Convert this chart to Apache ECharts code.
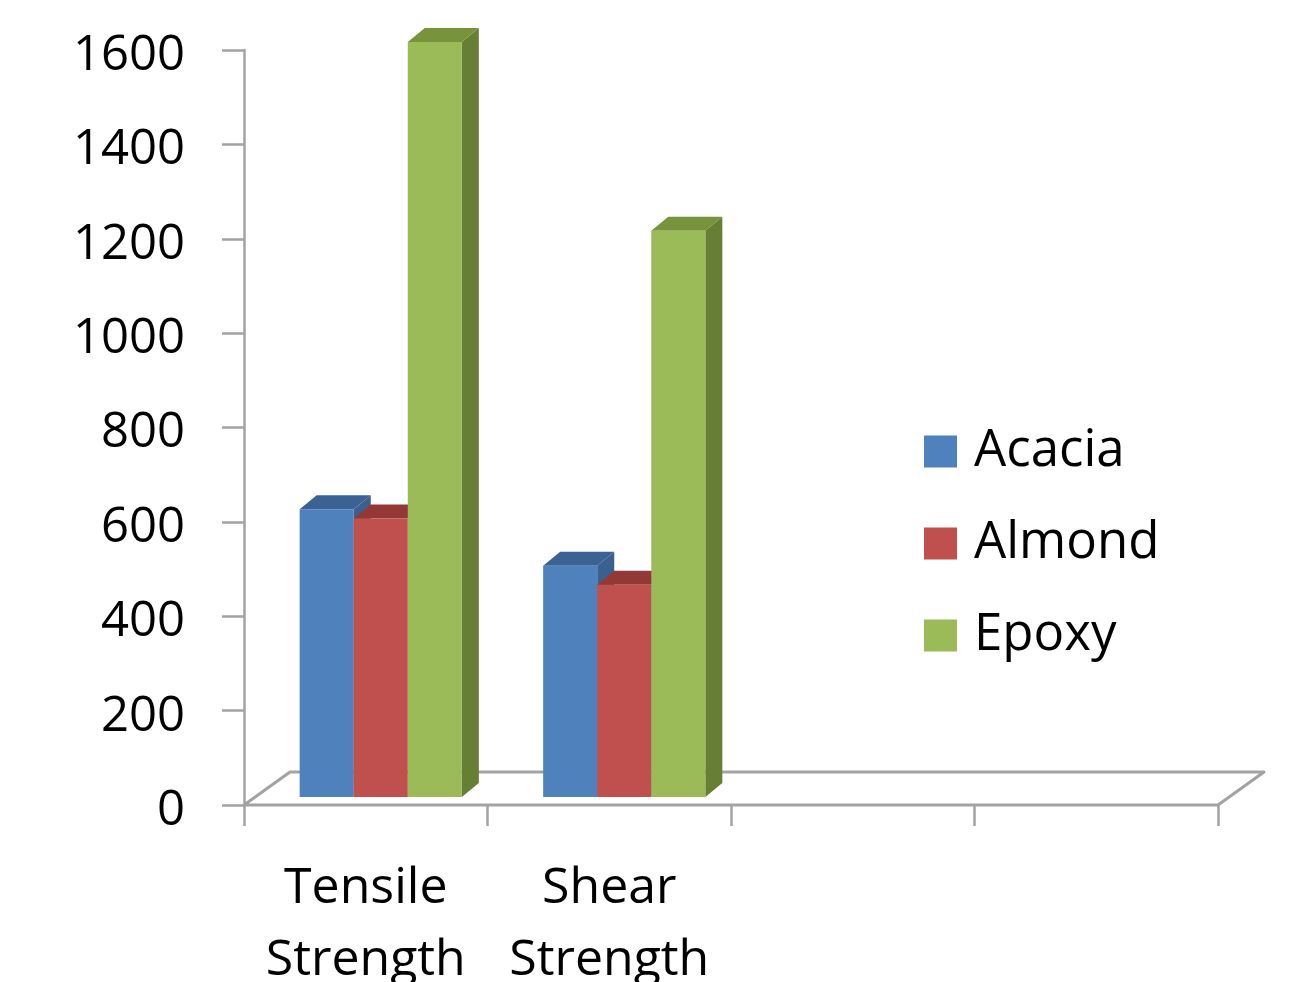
<!DOCTYPE html>
<html>
<head>
<meta charset="utf-8">
<title>Strength comparison</title>
<script src="https://cdn.jsdelivr.net/npm/echarts@6/dist/echarts.min.js"></script>
<style>
  html, body { margin: 0; padding: 0; background: #ffffff; overflow: hidden; }
  #chart { width: 1308px; height: 982px; }
</style>
</head>
<body>
<div id="chart"></div>
<script>
// Categories along the floor (the last two slots are empty)
const categories = ['Tensile\nStrength', 'Shear\nStrength', '', ''];
// Series values
const acacia = [610, 490];
const almond = [590, 450];
const epoxy = [1600, 1200];
const seriesNames = ['Acacia', 'Almond', 'Epoxy'];
// Value axis range
const yMin = 0;
const yMax = 1600;
const yStep = 200;

// Face colours: front, top, side
const palette = [
  { front: '#4f81bd', top: '#3a6394', side: '#3a6090' },
  { front: '#c0504d', top: '#943835', side: '#8f3a37' },
  { front: '#9bbb59', top: '#77933c', side: '#667f34' }
];

const FONT = '"Open Sans", "Liberation Sans", sans-serif';
const AXIS_GREY = '#a3a3a3';

// oblique projection offsets
const PLANE_DX = 15, PLANE_DY = -8;   // bars sit slightly behind the front edge
const DEPTH_DX = 17, DEPTH_DY = -14;  // thickness of each column
const FLOOR_DX = 46, FLOOR_DY = -33;  // depth of the floor
const BAR_RATIO = 0.222;               // column width as a share of the category band

function makeBarRenderer(slot) {
  return function (params, api) {
    const cat = api.value(0);
    const val = api.value(1);
    const base = api.coord([cat, 0]);
    const top = api.coord([cat, val]);
    const band = api.size([1, 0])[0];
    const w = band * BAR_RATIO;
    const xl = base[0] - (w * 3) / 2 + slot * w + PLANE_DX;
    const by = base[1] + PLANE_DY;
    const ty = top[1] + PLANE_DY;
    const c = palette[slot];
    return {
      type: 'group',
      children: [
        {
          type: 'polygon',
          shape: { points: [[xl + w, ty], [xl + w + DEPTH_DX, ty + DEPTH_DY], [xl + w + DEPTH_DX, by + DEPTH_DY], [xl + w, by]] },
          style: { fill: c.side }
        },
        {
          type: 'polygon',
          shape: { points: [[xl, ty], [xl + w, ty], [xl + w + DEPTH_DX, ty + DEPTH_DY], [xl + DEPTH_DX, ty + DEPTH_DY]] },
          style: { fill: c.top }
        },
        {
          type: 'rect',
          shape: { x: xl, y: ty, width: w, height: by - ty },
          style: { fill: c.front }
        }
      ]
    };
  };
}

// outline of the floor: front edge, right side, back edge, left side
function renderFloor(params, api) {
  const cs = params.coordSys;
  const x0 = cs.x, x1 = cs.x + cs.width, y0 = cs.y + cs.height;
  return {
    type: 'polygon',
    shape: { points: [[x0, y0], [x0 + FLOOR_DX, y0 + FLOOR_DY], [x1 + FLOOR_DX, y0 + FLOOR_DY], [x1, y0]] },
    style: { stroke: AXIS_GREY, lineWidth: 3, fill: null, lineJoin: 'round' }
  };
}

const valueSets = [acacia, almond, epoxy];

const chart = echarts.init(document.getElementById('chart'), null, { renderer: 'canvas' });

const series = [
  {
    type: 'custom',
    name: 'floor',
    renderItem: renderFloor,
    data: [[0, 0]],
    silent: true,
    z: 1
  }
].concat(seriesNames.map((name, i) => ({
  type: 'custom',
  name: name,
  renderItem: makeBarRenderer(i),
  itemStyle: { color: palette[i].front },
  encode: { x: 0, y: 1 },
  data: valueSets[i].map((v, k) => [k, v]),
  z: 2 + i
})));

chart.setOption({
  animation: false,
  backgroundColor: '#ffffff',
  grid: { left: 244, right: 90, top: 50, bottom: 177, containLabel: false, outerBoundsMode: 'none' },
  xAxis: {
    type: 'category',
    data: categories,
    boundaryGap: true,
    axisLine: { show: false },
    axisTick: { show: true, alignWithLabel: false, length: 21, lineStyle: { color: AXIS_GREY, width: 2.5 } },
    axisLabel: {
      show: true,
      interval: 0,
      margin: 48,
      color: '#000000',
      fontFamily: FONT,
      fontSize: 50,
      lineHeight: 72
    },
    splitLine: { show: false }
  },
  yAxis: {
    type: 'value',
    min: yMin,
    max: yMax,
    interval: yStep,
    axisLine: { show: true, lineStyle: { color: AXIS_GREY, width: 2.5 } },
    axisTick: { show: true, length: 22, lineStyle: { color: AXIS_GREY, width: 2.5 } },
    axisLabel: {
      margin: 59,
      color: '#000000',
      fontFamily: FONT,
      fontSize: 49,
      formatter: (v) => '{n|' + v + '}',
      rich: {
        n: {
          color: '#000000',
          fontFamily: FONT,
          fontSize: 49,
          lineHeight: 50,
          padding: [12, 0, 0, 0]
        }
      }
    },
    splitLine: { show: false }
  },
  legend: {
    data: seriesNames,
    orient: 'vertical',
    left: 924,
    top: 426,
    padding: 0,
    icon: 'rect',
    itemWidth: 33,
    itemHeight: 32,
    itemGap: 41,
    selectedMode: false,
    textStyle: {
      color: '#000000',
      fontFamily: FONT,
      fontSize: 51,
      lineHeight: 40,
      padding: [0, 0, 0, 12]
    }
  },
  series: series
});
</script>
</body>
</html>
